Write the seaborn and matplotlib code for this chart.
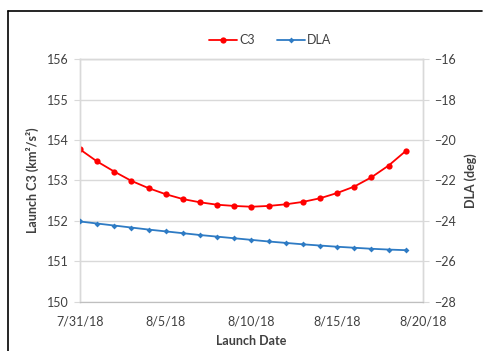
import numpy as np
import pandas as pd
import matplotlib as mpl
mpl.use('Agg')
import matplotlib.pyplot as plt
import matplotlib.dates as mdates
from matplotlib.lines import Line2D
from matplotlib.ticker import FuncFormatter
import seaborn as sns

sns.set_style('white')
plt.rcParams['font.family'] = ['Lato', 'DejaVu Sans']

# launch dates (daily)
dates = ['2018-07-31', '2018-08-01', '2018-08-02', '2018-08-03', '2018-08-04',
         '2018-08-05', '2018-08-06', '2018-08-07', '2018-08-08', '2018-08-09',
         '2018-08-10', '2018-08-11', '2018-08-12', '2018-08-13', '2018-08-14',
         '2018-08-15', '2018-08-16', '2018-08-17', '2018-08-18', '2018-08-19']
c3 = [153.77, 153.47, 153.22, 152.99, 152.81, 152.66, 152.54, 152.46, 152.40, 152.37,
      152.35, 152.37, 152.41, 152.47, 152.56, 152.69, 152.85, 153.08, 153.37, 153.73]
dla = [-24.03, -24.13, -24.23, -24.33, -24.43, -24.52, -24.61, -24.70, -24.78, -24.86,
       -24.94, -25.02, -25.09, -25.16, -25.22, -25.28, -25.33, -25.38, -25.42, -25.45]
xlim = ['2018-07-31', '2018-08-20']

df = pd.DataFrame({'date': pd.to_datetime(dates), 'C3': c3, 'DLA': dla})

txt = '#404040'
grid = '#D9D9D9'
red = '#FF0000'
blue = '#2E7BC4'

fig = plt.figure(figsize=(4.83, 3.51), dpi=100)
ax = fig.add_axes([0.1656, 0.1405, 0.710, 0.6906])
ax2 = ax.twinx()

sns.lineplot(data=df, x='date', y='C3', ax=ax, color=red, lw=1.3, marker='o',
             markersize=4.5, markeredgewidth=0, label='C3', legend=False, zorder=5)
sns.lineplot(data=df, x='date', y='DLA', ax=ax2, color=blue, lw=1.3, marker='D',
             markersize=3, markeredgewidth=0, label='DLA', legend=False, zorder=5)

ax.set_xlim(pd.to_datetime(xlim[0]), pd.to_datetime(xlim[1]))
ax.set_ylim(150, 156)
ax2.set_ylim(-28, -16)
ax.set_yticks(np.arange(150, 157, 1))
ax2.set_yticks(np.arange(-28, -15, 2))

ax.xaxis.set_major_locator(mdates.DayLocator(bymonthday=[5, 10, 15, 20, 31]))
ax.xaxis.set_minor_locator(mdates.DayLocator())
ax.xaxis.set_major_formatter(FuncFormatter(
    lambda v, p: '%d/%d/%d' % (mdates.num2date(v).month, mdates.num2date(v).day,
                               mdates.num2date(v).year % 100)))

ax.yaxis.grid(True, color=grid, lw=1)
ax.set_axisbelow(True)
for a in (ax, ax2):
    for s in ['left', 'right', 'top']:
        a.spines[s].set_color(grid)
        a.spines[s].set_linewidth(1)
    a.spines['bottom'].set_color('#BFBFBF')

ax.tick_params(axis='y', which='both', length=4, width=0.8, color=grid,
               labelsize=9, labelcolor=txt, pad=4)
ax2.tick_params(axis='y', length=4, width=0.8, color=grid, labelsize=9,
                labelcolor=txt, pad=4)
ax.tick_params(axis='x', which='major', length=4, width=0.8, color='#BFBFBF',
               direction='inout', labelsize=9, labelcolor=txt, pad=8)
ax.tick_params(axis='x', which='minor', length=4, width=0.8, color='#BFBFBF',
               direction='inout')

ax.set_xlabel('Launch Date', fontsize=9, fontweight='bold', color=txt, labelpad=5)
ax.set_ylabel('Launch C3 (km²/s²)', fontsize=9, fontweight='bold', color=txt, labelpad=6)
ax2.set_ylabel('DLA (deg)', fontsize=9, fontweight='bold', color=txt, labelpad=6)

h1, l1 = ax.get_legend_handles_labels()
h2, l2 = ax2.get_legend_handles_labels()
fig.legend(h1 + h2, l1 + l2, loc='center', bbox_to_anchor=(0.56, 0.886), ncol=2,
           frameon=False, fontsize=9, handlelength=2.2, handletextpad=0.2,
           columnspacing=1.8, labelcolor=txt)

# chart border (left and top edges visible)
fig.add_artist(Line2D([8 / 483, 8 / 483], [0, 1 - 11 / 351], transform=fig.transFigure,
                      color='black', lw=1.2))
fig.add_artist(Line2D([8 / 483, 482 / 483], [1 - 11 / 351, 1 - 11 / 351],
                      transform=fig.transFigure, color='black', lw=1.2))

fig.savefig('out.png', dpi=100)
